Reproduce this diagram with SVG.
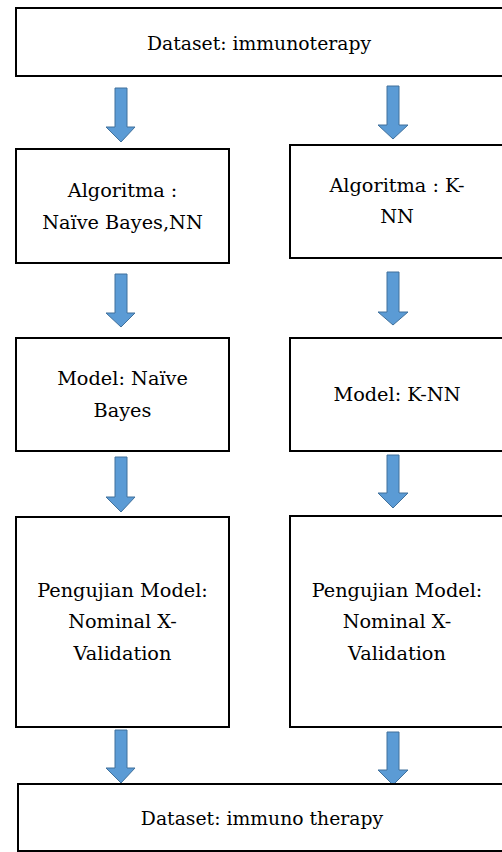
<svg xmlns="http://www.w3.org/2000/svg" width="502" height="852" viewBox="0 0 502 852">
<style>
.box{fill:#fff;stroke:#000;stroke-width:2}
.arr{fill:#5B9BD5;stroke:#41719C;stroke-width:1}
</style>
<rect width="502" height="852" fill="#fff"/>
<g id="connectors">
<path class="arr" d="M115,88 H127 V127 H135 L121,142 L106,127 H115 Z"/>
<path class="arr" d="M387,86 H399 V125 H408 L393,139 L378,125 H387 Z"/>
<path class="arr" d="M115,274 H127 V313 H135 L121,327 L106,313 H115 Z"/>
<path class="arr" d="M387,272 H399 V312 H408 L393,325 L378,312 H387 Z"/>
<path class="arr" d="M115,457 H127 V497 H135 L121,512 L106,497 H115 Z"/>
<path class="arr" d="M387,455 H399 V493 H408 L393,508 L378,493 H387 Z"/>
<path class="arr" d="M115,730 H127 V768 H135 L121,783 L106,768 H115 Z"/>
<path class="arr" d="M387,732 H399 V770 H408 L393,785 L378,770 H387 Z"/>
</g>
<g font-family="'DejaVu Serif', serif" font-size="19.3" fill="#000" text-anchor="middle">
<g id="dataset-top">
<rect class="box" x="16" y="8" width="500" height="68"/>
<text x="259" y="50" font-size="18.8">Dataset: immunoterapy</text>
</g>
<g id="algo-left">
<rect class="box" x="16" y="149" width="213" height="114"/>
<text x="122.5" y="197">Algoritma :</text>
<text x="122.5" y="229">Naïve Bayes,NN</text>
</g>
<g id="algo-right">
<rect class="box" x="290" y="145" width="230" height="113"/>
<text x="397" y="192">Algoritma : K-</text>
<text x="397" y="223">NN</text>
</g>
<g id="model-left">
<rect class="box" x="16" y="338" width="213" height="113"/>
<text x="122.5" y="385">Model: Naïve</text>
<text x="122.5" y="417">Bayes</text>
</g>
<g id="model-right">
<rect class="box" x="290" y="338" width="230" height="113"/>
<text x="397" y="401">Model: K-NN</text>
</g>
<g id="test-left">
<rect class="box" x="16" y="517" width="213" height="210"/>
<text x="122.5" y="597">Pengujian Model:</text>
<text x="122.5" y="628">Nominal X-</text>
<text x="122.5" y="660">Validation</text>
</g>
<g id="test-right">
<rect class="box" x="290" y="516" width="230" height="211"/>
<text x="397" y="597">Pengujian Model:</text>
<text x="397" y="628">Nominal X-</text>
<text x="397" y="660">Validation</text>
</g>
<g id="dataset-bottom">
<rect class="box" x="18" y="784" width="500" height="67"/>
<text x="262" y="825" font-size="18.8">Dataset: immuno therapy</text>
</g>
</g>
</svg>
